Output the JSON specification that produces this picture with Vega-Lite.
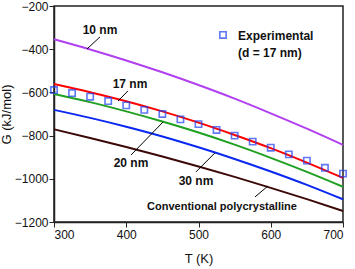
{
  "$schema": "https://vega.github.io/schema/vega-lite/v6.json",
  "width": 289,
  "height": 216,
  "autosize": "none",
  "padding": {"left": 54, "top": 6, "right": 12, "bottom": 47},
  "config": {
    "view": {"stroke": "#222", "strokeWidth": 1.5},
    "font": "Liberation Sans"
  },
  "datasets": {
    "curves": [
      {"T": 300, "G": -354, "s": "10 nm"}, {"T": 350, "G": -401, "s": "10 nm"}, {"T": 400, "G": -452, "s": "10 nm"}, {"T": 450, "G": -507, "s": "10 nm"}, {"T": 500, "G": -566, "s": "10 nm"}, {"T": 550, "G": -629, "s": "10 nm"}, {"T": 600, "G": -697, "s": "10 nm"}, {"T": 650, "G": -768, "s": "10 nm"}, {"T": 700, "G": -843, "s": "10 nm"},
      {"T": 300, "G": -561, "s": "17 nm"}, {"T": 350, "G": -599, "s": "17 nm"}, {"T": 400, "G": -641, "s": "17 nm"}, {"T": 450, "G": -688, "s": "17 nm"}, {"T": 500, "G": -740, "s": "17 nm"}, {"T": 550, "G": -797, "s": "17 nm"}, {"T": 600, "G": -858, "s": "17 nm"}, {"T": 650, "G": -925, "s": "17 nm"}, {"T": 700, "G": -996, "s": "17 nm"},
      {"T": 300, "G": -607, "s": "20 nm"}, {"T": 350, "G": -645, "s": "20 nm"}, {"T": 400, "G": -688, "s": "20 nm"}, {"T": 450, "G": -735, "s": "20 nm"}, {"T": 500, "G": -786, "s": "20 nm"}, {"T": 550, "G": -842, "s": "20 nm"}, {"T": 600, "G": -903, "s": "20 nm"}, {"T": 650, "G": -968, "s": "20 nm"}, {"T": 700, "G": -1037, "s": "20 nm"},
      {"T": 300, "G": -681, "s": "30 nm"}, {"T": 350, "G": -718, "s": "30 nm"}, {"T": 400, "G": -759, "s": "30 nm"}, {"T": 450, "G": -804, "s": "30 nm"}, {"T": 500, "G": -854, "s": "30 nm"}, {"T": 550, "G": -908, "s": "30 nm"}, {"T": 600, "G": -966, "s": "30 nm"}, {"T": 650, "G": -1028, "s": "30 nm"}, {"T": 700, "G": -1095, "s": "30 nm"},
      {"T": 300, "G": -771, "s": "Conventional"}, {"T": 350, "G": -811, "s": "Conventional"}, {"T": 400, "G": -853, "s": "Conventional"}, {"T": 450, "G": -897, "s": "Conventional"}, {"T": 500, "G": -943, "s": "Conventional"}, {"T": 550, "G": -991, "s": "Conventional"}, {"T": 600, "G": -1042, "s": "Conventional"}, {"T": 650, "G": -1094, "s": "Conventional"}, {"T": 700, "G": -1149, "s": "Conventional"}
    ],
    "exp": [
      {"T": 300, "G": -589}, {"T": 325, "G": -603}, {"T": 350, "G": -620}, {"T": 375, "G": -640}, {"T": 400, "G": -660}, {"T": 425, "G": -681}, {"T": 450, "G": -700}, {"T": 475, "G": -725}, {"T": 500, "G": -747}, {"T": 525, "G": -774}, {"T": 550, "G": -800}, {"T": 575, "G": -828}, {"T": 600, "G": -856}, {"T": 625, "G": -887}, {"T": 650, "G": -916}, {"T": 675, "G": -949}, {"T": 700, "G": -976}
    ],
    "labels": [
      {"T": 363.7, "G": -311, "text": "10 nm", "size": 12},
      {"T": 405.2, "G": -563, "text": "17 nm", "size": 12},
      {"T": 406.6, "G": -927, "text": "20 nm", "size": 12},
      {"T": 496.5, "G": -1010, "text": "30 nm", "size": 12},
      {"T": 532.5, "G": -1130, "text": "Conventional polycrystalline", "size": 11}
    ],
    "leaders": [
      {"T": 363.7, "G": -343, "T2": 345.7, "G2": -399},
      {"T": 402.4, "G": -593, "T2": 388.6, "G2": -640},
      {"T": 406.6, "G": -890, "T2": 450.9, "G2": -737},
      {"T": 496.5, "G": -968, "T2": 522.8, "G2": -880},
      {"T": 578.2, "G": -1084, "T2": 596.2, "G2": -1033}
    ],
    "legendText": [
      {"T": 554.7, "G": -339, "text": "Experimental"},
      {"T": 554.7, "G": -417, "text": " (d = 17 nm)"}
    ],
    "legendSym": [
      {"T": 533.9, "G": -334}
    ]
  },
  "layer": [
    {
      "data": {"name": "curves"},
      "mark": {"type": "line", "strokeWidth": 2, "interpolate": "monotone"},
      "encoding": {
        "x": {
          "field": "T", "type": "quantitative",
          "scale": {"domain": [300, 700], "nice": false, "zero": false},
          "axis": {
            "title": "T (K)", "titleFontSize": 13, "titleFontWeight": "normal", "titleColor": "#111", "titlePadding": 12,
            "values": [300, 350, 400, 450, 500, 550, 600, 650, 700],
            "format": "d",
            "labelExpr": "datum.value % 100 === 0 ? datum.label : ''",
            "labelFontSize": 12, "labelColor": "#111", "labelPadding": 2,
            "tickColor": "#222", "domainColor": "#222", "domainWidth": 1.5, "tickWidth": 1,
            "tickSize": {"condition": {"test": "datum.value % 100 === 0", "value": 5}, "value": 3},
            "grid": false
          }
        },
        "y": {
          "field": "G", "type": "quantitative",
          "scale": {"domain": [-1200, -200], "nice": false, "zero": false},
          "axis": {
            "title": "G (kJ/mol)", "titleFontSize": 13, "titleFontWeight": "normal", "titleColor": "#111", "titlePadding": 1,
            "values": [-1200, -1100, -1000, -900, -800, -700, -600, -500, -400, -300, -200],
            "format": "d",
            "labelExpr": "datum.value % 200 === 0 ? datum.label : ''",
            "labelFontSize": 12, "labelColor": "#111", "labelPadding": 1,
            "tickColor": "#222", "domainColor": "#222", "domainWidth": 1.5, "tickWidth": 1,
            "tickSize": {"condition": {"test": "datum.value % 200 === 0", "value": 5}, "value": 3},
            "grid": false
          }
        },
        "color": {
          "field": "s", "type": "nominal", "legend": null,
          "scale": {"domain": ["10 nm", "17 nm", "20 nm", "30 nm", "Conventional"],
                    "range": ["#b040f0", "#ff0000", "#20a020", "#0a28f0", "#3c0808"]}
        }
      }
    },
    {
      "data": {"name": "exp"},
      "mark": {"type": "point", "shape": "square", "filled": false, "size": 40, "strokeWidth": 1.6, "color": "#1f3ff0"},
      "encoding": {
        "x": {"field": "T", "type": "quantitative"},
        "y": {"field": "G", "type": "quantitative"}
      }
    },
    {
      "data": {"name": "leaders"},
      "mark": {"type": "rule", "strokeWidth": 1, "stroke": "black"},
      "encoding": {
        "x": {"field": "T", "type": "quantitative"},
        "y": {"field": "G", "type": "quantitative"},
        "x2": {"field": "T2"},
        "y2": {"field": "G2"}
      }
    },
    {
      "data": {"name": "labels"},
      "mark": {"type": "text", "fontWeight": "bold", "color": "#111", "align": "center", "baseline": "middle"},
      "encoding": {
        "x": {"field": "T", "type": "quantitative"},
        "y": {"field": "G", "type": "quantitative"},
        "text": {"field": "text"},
        "size": {"field": "size", "type": "quantitative", "scale": null}
      }
    },
    {
      "data": {"name": "legendSym"},
      "mark": {"type": "point", "shape": "square", "filled": false, "size": 40, "strokeWidth": 1.6, "color": "#1f3ff0"},
      "encoding": {
        "x": {"field": "T", "type": "quantitative"},
        "y": {"field": "G", "type": "quantitative"}
      }
    },
    {
      "data": {"name": "legendText"},
      "mark": {"type": "text", "fontWeight": "bold", "fontSize": 12, "color": "#111", "align": "left", "baseline": "middle"},
      "encoding": {
        "x": {"field": "T", "type": "quantitative"},
        "y": {"field": "G", "type": "quantitative"},
        "text": {"field": "text"}
      }
    }
  ]
}
